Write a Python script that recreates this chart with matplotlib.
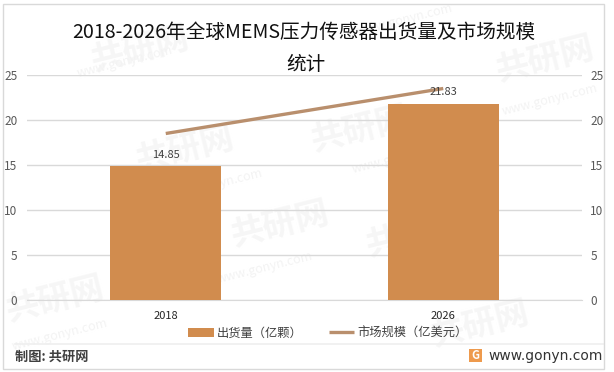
# -*- coding: utf-8 -*-
import matplotlib
matplotlib.use('Agg')
from matplotlib import pyplot as plt
from matplotlib.patches import Rectangle

plt.rcParams['font.family'] = ['Noto Sans CJK SC', 'DejaVu Sans']

years = ['2018', '2026']
shipments = [14.85, 21.83]
market_size = [18.5, 23.5]
y_ticks = [0, 5, 10, 15, 20, 25]
title_lines = ['2018-2026年全球MEMS压力传感器出货量及市场规模', '统计']
bar_name = '出货量（亿颗）'
line_name = '市场规模（亿美元）'

W, H = 614, 372
BAR = '#D18C4E'
LINE = '#B98F6D'
GRID = '#D9D9D9'
TXT = '#595959'


def px(x, y):
    # 像素坐标转 figure 坐标
    return x / W, 1 - y / H


fig = plt.figure(figsize=(W / 100, H / 100), dpi=100, facecolor='white')

# 水印
wm_logo = [(140, 50), (360, 130), (185, 150), (545, 60), (415, 235), (280, 225), (55, 300), (480, 325)]
wm_url = [(125, 62), (405, 20), (215, 185), (400, 158), (550, 100), (265, 268), (60, 335), (450, 255)]
for x, y in wm_logo:
    fig.text(*px(x, y), '共研网', fontsize=24, fontweight='bold', color='#F6F6F6',
             rotation=14, ha='center', va='center', zorder=0)
for x, y in wm_url:
    fig.text(*px(x, y), 'www.gonyn.com', fontsize=9, color='#F3F3F3',
             rotation=14, ha='center', va='center', zorder=0)

l, r, t, b = 27, 582, 75, 300
ax = fig.add_axes([l / W, 1 - b / H, (r - l) / W, (b - t) / H])
ax.set_zorder(2)
ax.patch.set_alpha(0)
ax.bar(years, shipments, width=0.4, color=BAR, zorder=3, label=bar_name)
ax.set_xlim(-0.5, 1.5)
ax.set_ylim(0, 25)
ax.set_yticks(y_ticks)
ax.grid(axis='y', color=GRID, lw=1, zorder=1)
ax.set_axisbelow(True)
for s in ['top', 'left', 'right']:
    ax.spines[s].set_visible(False)
ax.spines['bottom'].set_color(GRID)
ax.tick_params(axis='y', length=0, labelsize=8.5, labelcolor=TXT, pad=7)
ax.tick_params(axis='x', length=0, labelsize=8, labelcolor='#262626', pad=8)

ax2 = ax.twinx()
ax2.set_zorder(3)
ax2.patch.set_alpha(0)
ax2.plot(years, market_size, color=LINE, lw=2.4, solid_capstyle='butt', zorder=4, label=line_name)
ax2.set_ylim(0, 25)
ax2.set_yticks(y_ticks)
for s in ax2.spines.values():
    s.set_visible(False)
ax2.tick_params(axis='y', length=0, labelsize=8.5, labelcolor=TXT, pad=6)

for i, v in enumerate(shipments):
    ax2.text(i, v + 0.7, f'{v:.2f}', ha='center', va='bottom', fontsize=8, color='#404040', zorder=5)

fig.text(*px(304, 32), title_lines[0], fontsize=14.1, color='#111111', ha='center', va='center', zorder=5)
fig.text(*px(306, 64), title_lines[1], fontsize=14.1, color='#111111', ha='center', va='center', zorder=5)

# 图例
h1, l1 = ax.get_legend_handles_labels()
h2, l2 = ax2.get_legend_handles_labels()
leg = fig.legend(h1 + h2, l1 + l2, ncol=2, frameon=False, fontsize=8.8, labelcolor='#404040',
                 loc='center', bbox_to_anchor=px(328, 333), handlelength=2.1,
                 handletextpad=0.25, columnspacing=2.1)
leg.set_zorder(5)

# 底部
fig.add_artist(plt.Line2D([15 / W, 603 / W], [1 - 344 / H, 1 - 344 / H], color='#EFEFEF', lw=1.2))
fig.text(*px(15, 357), '制图: 共研网', fontsize=9.5, fontweight='bold', color='#404040', ha='left', va='center', zorder=5)
fig.text(*px(603, 356), 'www.gonyn.com', fontsize=10, family='DejaVu Sans', color='#333333', ha='right', va='center', zorder=5)
fig.add_artist(Rectangle((469 / W, 1 - 362 / H), 13 / W, 13 / H, transform=fig.transFigure,
                         facecolor='#EE9A4D', edgecolor='none', zorder=5))
fig.text(*px(475.5, 355.5), 'G', fontsize=8, fontweight='bold', color='white', ha='center', va='center', zorder=6)

# 外框
fig.add_artist(Rectangle((2.5 / W, 1 - 368.5 / H), 601 / W, 364.5 / H, transform=fig.transFigure,
                         fill=False, edgecolor='#D9D9D9', lw=1, zorder=5))

fig.savefig('out.png', dpi=100)
